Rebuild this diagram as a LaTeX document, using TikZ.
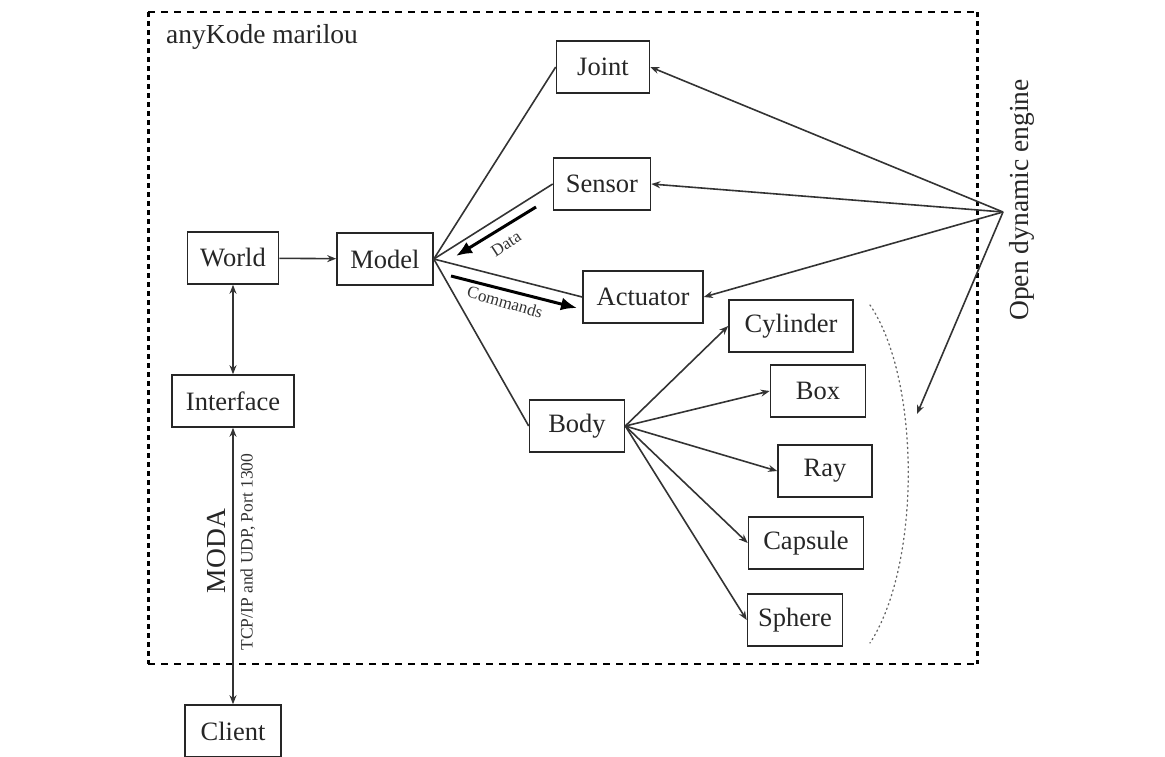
\documentclass[tikz,border=0pt]{standalone}
\usepackage{fontspec}
\setmainfont{Liberation Serif}
\usetikzlibrary{arrows.meta}
\begin{document}
\begin{tikzpicture}[x=1pt,y=-1pt,
  box/.style={draw=black!85, line width=1.6pt, minimum height=52pt, inner sep=0pt,
              font=\fontsize{26.5}{30}\selectfont, text=black!85},
  conn/.style={line width=1.6pt, draw=black!80},
  arr/.style={conn, -{Stealth[length=9pt,width=7pt]}},
  darr/.style={conn, {Stealth[length=9pt,width=7pt]}-{Stealth[length=9pt,width=7pt]}},
  bigarr/.style={line width=3pt, draw=black, -{Latex[length=16pt,width=13pt]}},
  lab/.style={font=\fontsize{17}{20}\selectfont, text=black!80, inner sep=0pt},
  biglab/.style={font=\fontsize{27.5}{30}\selectfont, text=black!85, inner sep=0pt},
  hframe/.style={line width=2.5pt, dash pattern=on 7pt off 6pt},
  vframe/.style={line width=3pt, dash pattern=on 5pt off 4pt}
]
\useasboundingbox (0,0) rectangle (1165,756);

% frame
\draw[hframe] (148,12) -- (977,12);
\draw[hframe] (148,664) -- (977,664);
\draw[vframe] (148,12) -- (148,664);
\draw[vframe] (977,12) -- (977,664);
\node[biglab, anchor=base west] (title) at (166,43) {anyKode marilou};

% boxes
\node[box, minimum width=93pt]  (joint)     at (603,67)  {Joint};
\node[box, minimum width=97pt]  (sensor)    at (602,184) {Sensor};
\node[box, minimum width=91pt]  (world)     at (233,258) {World};
\node[box, minimum width=96pt]  (model)     at (385,259) {Model};
\node[box, minimum width=120pt] (actuator)  at (643,297) {Actuator};
\node[box, minimum width=124pt] (cylinder)  at (791,326) {Cylinder};
\node[box, minimum width=95pt]  (boxn)      at (818,391) {Box};
\node[box, minimum width=122pt] (interface) at (233,401) {Interface};
\node[box, minimum width=95pt]  (body)      at (577,426) {Body};
\node[box, minimum width=94pt]  (ray)       at (825,471) {Ray};
\node[box, minimum width=115pt] (capsule)   at (806,543) {Capsule};
\node[box, minimum width=95pt]  (sphere)    at (795,620) {Sphere};
\node[box, minimum width=96pt]  (client)    at (233,731) {Client};

% rotated labels
\node[biglab, rotate=90] (ode) at (1022,200) {Open dynamic engine};
\node[biglab, rotate=90] (moda) at (217,551) {MODA};
\node[lab, rotate=90, font=\fontsize{17.5}{20}\selectfont] (tcp) at (248,552) {TCP/IP and UDP, Port 1300};

% connectors
\draw[arr] (world) -- (model);
\draw[darr] (world) -- (interface);
\draw[darr] (interface) -- (client);

\draw[conn] (model.east) -- (joint.west);
\draw[conn] (model.east) -- (sensor.west);
\draw[conn] (model.east) -- (actuator.west);
\draw[conn] (model.east) -- (body.west);

\coordinate (odep) at (1003,212);
\coordinate (odeend) at (917,414);
\draw[arr] (odep) -- (joint.east);
\draw[arr] (odep) -- (sensor.east);
\draw[arr] (odep) -- (actuator.east);
\draw[arr] (odep) -- (odeend);

\draw[arr] (body.east) -- (cylinder.west);
\draw[arr] (body.east) -- (boxn.west);
\draw[arr] (body.east) -- (ray.west);
\draw[arr] (body.east) -- (capsule.west);
\draw[arr] (body.east) -- (sphere.west);

% data / commands
\coordinate (d1) at (536,207);
\coordinate (d2) at (456,256);
\draw[bigarr] (d1) -- (d2);
\node[lab, rotate=33] (data) at (506,244) {Data};
\coordinate (c1) at (451,276);
\coordinate (c2) at (577,308);
\draw[bigarr] (c1) -- (c2);
\node[lab, rotate=-16] (cmds) at (505,302) {Commands};

% dotted brace
\draw[line width=1.3pt, black!60, dash pattern=on 1.3pt off 3.5pt, line cap=round]
  (870,305) .. controls (921,380) and (921,565) .. (870,643);
\end{tikzpicture}
\end{document}
